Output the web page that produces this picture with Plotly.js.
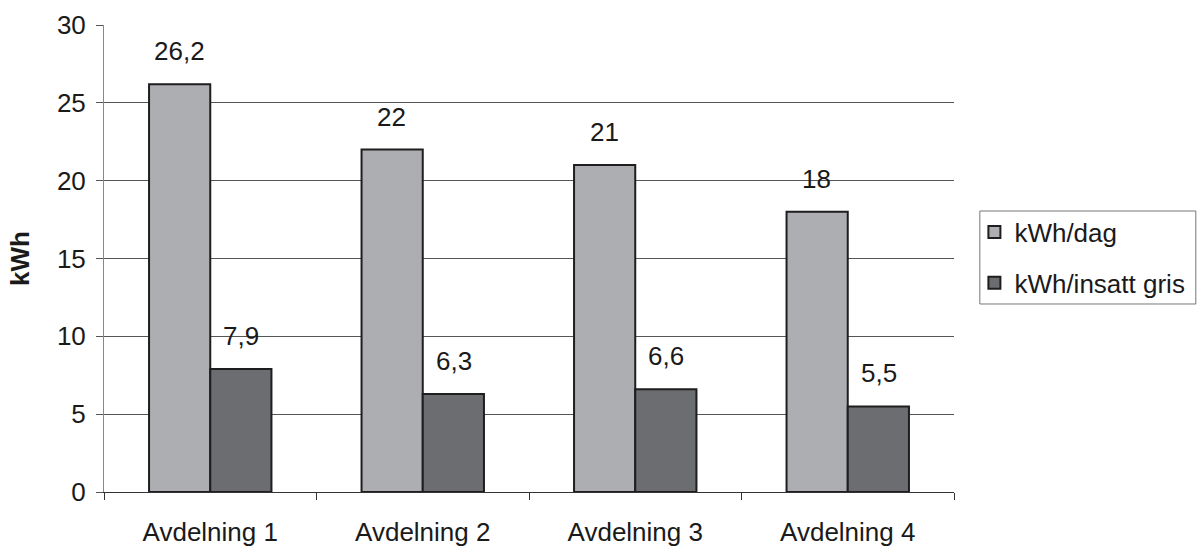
<!DOCTYPE html>
<html>
<head>
<meta charset="utf-8">
<script src="https://cdn.plot.ly/plotly-3.0.1.min.js"></script>
<style>html,body{margin:0;padding:0;background:#fff;}#chart{width:1202px;height:548px;}</style>
</head>
<body>
<div id="chart"></div>
<script>
const categories = ['Avdelning 1', 'Avdelning 2', 'Avdelning 3', 'Avdelning 4'];
const seriesNames = ['kWh/dag', 'kWh/insatt gris'];
const kwhDag = [26.2, 22, 21, 18];
const kwhGris = [7.9, 6.3, 6.6, 5.5];
const yTicks = [0, 5, 10, 15, 20, 25, 30];

const FONT = 'Liberation Sans, Arial, sans-serif';
const FS = 26;
const fmt = v => String(v).replace('.', ',');

const traces = [
  {type: 'bar', name: seriesNames[0], x: categories, y: kwhDag, legendgroup: 'a',
   marker: {color: '#adaeb2', line: {color: '#1e1e1e', width: 2}}, hoverinfo: 'skip'},
  {type: 'bar', name: seriesNames[1], x: categories, y: kwhGris, legendgroup: 'b',
   marker: {color: '#6c6d71', line: {color: '#1e1e1e', width: 2}}, hoverinfo: 'skip'}
];

const annotations = [];
[kwhDag, kwhGris].forEach((arr, si) => {
  arr.forEach((v, i) => {
    annotations.push({x: categories[i], y: v, xref: 'x', yref: 'y', text: fmt(v),
      showarrow: false, yanchor: 'bottom', xshift: si === 0 ? -31 : 31, yshift: 16,
      font: {family: FONT, size: FS, color: '#1a1a1a'}});
  });
});

const layout = {
  width: 1202, height: 548,
  margin: {l: 104, r: 244, t: 25, b: 56},
  paper_bgcolor: '#fff', plot_bgcolor: '#fff',
  font: {family: FONT, size: FS, color: '#1a1a1a'},
  barmode: 'group', bargap: 0.424, bargroupgap: 0,
  showlegend: true,
  legend: {x: 1.024, xanchor: 'left', y: 0.502, yanchor: 'middle',
    borderwidth: 0, bgcolor: 'rgba(0,0,0,0)',
    traceorder: 'grouped', tracegroupgap: 14,
    font: {family: FONT, size: FS, color: '#1a1a1a'}},
  shapes: [{type: 'rect', xref: 'paper', yref: 'paper', x0: 1.0304, x1: 1.2845, y0: 0.4026, y1: 0.6017,
    line: {color: '#777', width: 1}, fillcolor: 'rgba(0,0,0,0)', layer: 'below'}],
  xaxis: {type: 'category', tickson: 'boundaries', ticks: 'outside', ticklen: 7,
    tickcolor: '#333', tickwidth: 1, showline: true, linecolor: '#333', linewidth: 1,
    showgrid: false, ticklabelstandoff: 17, tickfont: {family: FONT, size: FS, color: '#1a1a1a'},
    fixedrange: true},
  yaxis: {range: [0, 30], tickvals: yTicks, ticktext: yTicks.map(String), ticks: 'outside', ticklen: 7,
    tickcolor: '#555', showline: true, linecolor: '#888', linewidth: 1,
    showgrid: true, gridcolor: '#555', gridwidth: 1, zeroline: false,
    ticklabelstandoff: 5, tickfont: {family: FONT, size: FS, color: '#1a1a1a'},
    title: {text: '<b>kWh</b>', standoff: 19, font: {family: FONT, size: FS, color: '#1a1a1a'}},
    fixedrange: true},
  annotations: annotations
};

Plotly.newPlot('chart', traces, layout, {staticPlot: true, displayModeBar: false});
</script>
</body>
</html>
